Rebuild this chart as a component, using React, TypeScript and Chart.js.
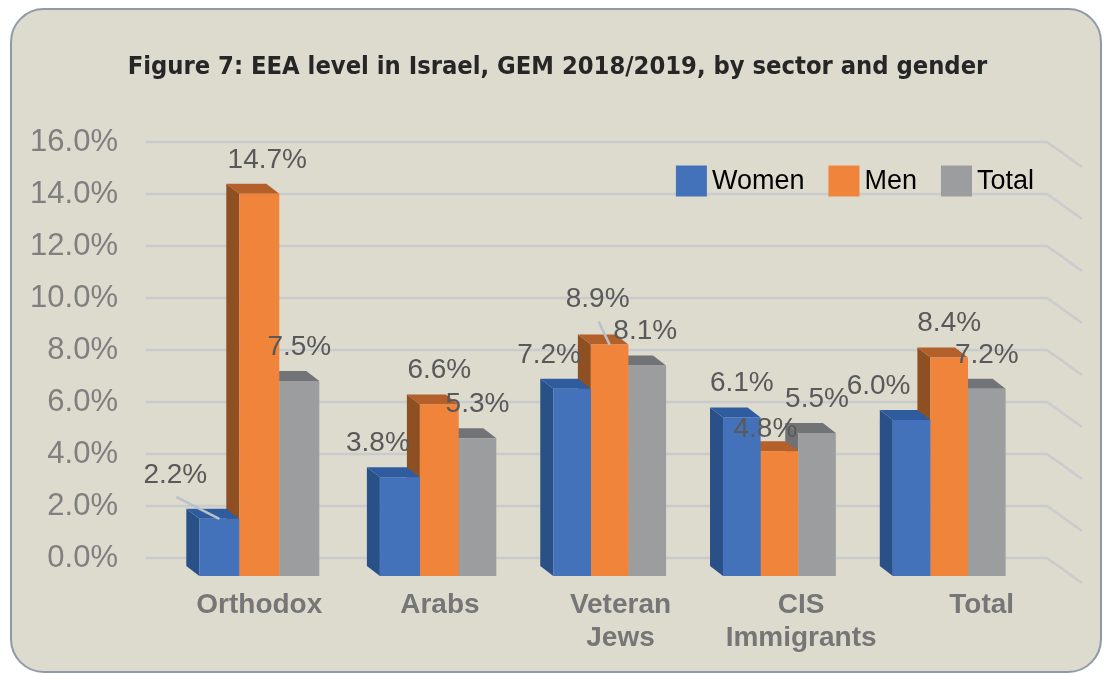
import React, { useEffect, useRef } from "react";
import { Chart, registerables } from "chart.js";

Chart.register(...registerables);

// ---- data ----
const chartTitle = "Figure 7: EEA level in Israel, GEM 2018/2019, by sector and gender";
const categories: string[][] = [["Orthodox"], ["Arabs"], ["Veteran", "Jews"], ["CIS", "Immigrants"], ["Total"]];
const seriesNames = ["Women", "Men", "Total"];
const women = [2.2, 3.8, 7.2, 6.1, 6.0];
const men = [14.7, 6.6, 8.9, 4.8, 8.4];
const total = [7.5, 5.3, 8.1, 5.5, 7.2];
const yMin = 0;
const yMax = 16;
const yStep = 2;

// ---- styling ----
const frontColors = ["#4472BA", "#F0843A", "#9C9D9F"];
const sideColors = ["#2A5088", "#8E4F23", "#6F7174"];
const topColors = ["#2E5C9E", "#B3602B", "#717376"];
const GRID = "#C9CBCC";
const SANS = "'Liberation Sans', Arial, sans-serif";
const NARROW = "'Liberation Sans Narrow', 'DejaVu Sans Condensed', 'Noto Sans', sans-serif";

// label nudges (dx, dy) relative to default position above each bar
const womenNudge = [[-44, -10], [-22, 0], [-23, 0], [0, 0], [-33, 0]];
const menNudge = [[8, 0], [0, 0], [-12, -11], [-14, 12], [0, 0]];
const totalNudge = [[0, 0], [0, 0], [-2, 0], [0, 0], [0, 0]];
const nudges = [womenNudge, menNudge, totalNudge];
const womenLeader = [true, false, false, false, false];
const menLeader = [false, false, true, false, false];
const totalLeader = [false, false, false, false, false];
const leaders = [womenLeader, menLeader, totalLeader];

const PERSP = 0.94;
const FRONT_SHIFT = 18;
const DEPTH_X = -13;
const DEPTH_Y = -10;

function barGeom(chart: any, d: number, i: number) {
  const x = chart.scales.x;
  const c1 = x.getPixelForValue(1);
  const P = (px: number) => (px <= c1 ? px : c1 + (px - c1) * PERSP);
  const el = chart.getDatasetMeta(d).data[i];
  const p = el.getProps(["x", "y", "base", "width"], true);
  const x1 = P(p.x - p.width / 2);
  const x2 = P(p.x + p.width / 2);
  return { x1, x2, cx: (x1 + x2) / 2, top: p.y + FRONT_SHIFT, bot: p.base + FRONT_SHIFT };
}

function poly(ctx: CanvasRenderingContext2D, pts: number[][], color: string) {
  ctx.beginPath();
  ctx.moveTo(pts[0][0], pts[0][1]);
  for (let k = 1; k < pts.length; k++) ctx.lineTo(pts[k][0], pts[k][1]);
  ctx.closePath();
  ctx.fillStyle = color;
  ctx.fill();
}

const bars3d = {
  id: "bars3d",
  beforeDatasetsDraw(chart: any) {
    const { ctx, chartArea } = chart;
    const y = chart.scales.y;
    ctx.save();
    ctx.strokeStyle = GRID;
    ctx.lineWidth = 2.5;
    for (let v = yMin; v <= yMax; v += yStep) {
      const py = Math.round(y.getPixelForValue(v));
      ctx.beginPath();
      ctx.moveTo(chartArea.left - 23, py);
      ctx.lineTo(chartArea.right - 25, py);
      ctx.lineTo(chartArea.right + 10, py + 25);
      ctx.stroke();
    }
    const nCat = categories.length;
    const nSet = chart.data.datasets.length;
    for (let i = nCat - 1; i >= 0; i--) {
      for (let d = nSet - 1; d >= 0; d--) {
        const g = barGeom(chart, d, i);
        poly(ctx, [[g.x1, g.top], [g.x1 + DEPTH_X, g.top + DEPTH_Y], [g.x1 + DEPTH_X, g.bot + DEPTH_Y], [g.x1, g.bot]], sideColors[d]);
        poly(ctx, [[g.x1, g.top], [g.x2, g.top], [g.x2 + DEPTH_X, g.top + DEPTH_Y], [g.x1 + DEPTH_X, g.top + DEPTH_Y]], topColors[d]);
        ctx.fillStyle = frontColors[d];
        ctx.fillRect(g.x1, g.top, g.x2 - g.x1, g.bot - g.top);
      }
    }
    ctx.restore();
    return false;
  },
  afterDraw(chart: any) {
    const { ctx, chartArea } = chart;
    ctx.save();
    // title
    ctx.font = `bold 25.3px ${NARROW}`;
    ctx.fillStyle = "#262626";
    ctx.textAlign = "center";
    ctx.textBaseline = "middle";
    ctx.fillText(chartTitle, 557.5, 67);
    // data labels
    const nSet = chart.data.datasets.length;
    for (let d = 0; d < nSet; d++) {
      const vals = chart.data.datasets[d].data as number[];
      for (let i = 0; i < vals.length; i++) {
        const g = barGeom(chart, d, i);
        const lx = g.cx + nudges[d][i][0];
        const ly = g.top - 34 + nudges[d][i][1];
        if (leaders[d][i]) {
          ctx.strokeStyle = "#B9C1C9";
          ctx.lineWidth = 2.5;
          ctx.beginPath();
          ctx.moveTo(lx + 1, ly + 22);
          ctx.lineTo(g.cx, g.top);
          ctx.stroke();
        }
        ctx.font = `28px ${SANS}`;
        ctx.fillStyle = "#595959";
        ctx.textAlign = "center";
        ctx.textBaseline = "middle";
        ctx.fillText(vals[i].toFixed(1) + "%", lx, ly);
      }
    }
    // legend
    ctx.font = `27px ${SANS}`;
    const box = 31, gap = 5, itemGap = 24;
    const widths = seriesNames.map((s) => box + gap + ctx.measureText(s).width);
    const totalW = widths.reduce((a, b) => a + b, 0) + itemGap * (seriesNames.length - 1);
    let lx = chartArea.right - 38 - totalW;
    const cy = chartArea.top + 39;
    for (let d = 0; d < seriesNames.length; d++) {
      ctx.fillStyle = frontColors[d];
      ctx.fillRect(lx, cy - box / 2, box, box);
      ctx.fillStyle = "#000000";
      ctx.textAlign = "left";
      ctx.textBaseline = "middle";
      ctx.fillText(seriesNames[d], lx + box + gap, cy + 1);
      lx += widths[d] + itemGap;
    }
    ctx.restore();
  },
};

export default function App() {
  const ref = useRef<HTMLCanvasElement | null>(null);
  useEffect(() => {
    if (!ref.current) return;
    const chart = new Chart(ref.current, {
      type: "bar",
      data: {
        labels: categories as any,
        datasets: [
          { label: seriesNames[0], data: women, backgroundColor: frontColors[0] },
          { label: seriesNames[1], data: men, backgroundColor: frontColors[1] },
          { label: seriesNames[2], data: total, backgroundColor: frontColors[2] },
        ],
      },
      options: {
        animation: false,
        responsive: false,
        devicePixelRatio: 1,
        layout: { padding: { left: 0, right: 33, top: 142, bottom: 0 } },
        datasets: { bar: { categoryPercentage: 0.6645, barPercentage: 1 } },
        plugins: {
          legend: { display: false },
          tooltip: { enabled: false },
          title: { display: false },
        },
        scales: {
          x: {
            grid: { display: false },
            border: { display: false },
            ticks: {
              color: "#767676",
              font: { family: SANS, size: 28, weight: "bold", lineHeight: 1.2 },
              padding: 22,
              maxRotation: 0,
              autoSkip: false,
            },
            afterFit: (s: any) => { s.height = 117; },
          },
          y: {
            min: yMin,
            max: yMax,
            grid: { display: false },
            border: { display: false },
            ticks: {
              stepSize: yStep,
              color: "#7F7F7F",
              font: { family: SANS, size: 31 },
              padding: 43,
              callback: (v: any) => Number(v).toFixed(1) + "%",
            },
            afterFit: (s: any) => { s.width = 169; },
          },
        },
      },
      plugins: [bars3d],
    });
    return () => chart.destroy();
  }, []);

  return (
    <div style={{ position: "absolute", left: 0, top: 0, width: 1105, height: 675, background: "#FFFFFF" }}>
      <div
        style={{
          position: "absolute",
          left: 10,
          top: 8,
          width: 1092,
          height: 665,
          boxSizing: "border-box",
          border: "2.5px solid #8E9AA7",
          borderRadius: 34,
          background: "#DDDBCE",
        }}
      />
      <canvas ref={ref} width={1105} height={675} style={{ position: "absolute", left: 0, top: 0, width: 1105, height: 675 }} />
    </div>
  );
}
